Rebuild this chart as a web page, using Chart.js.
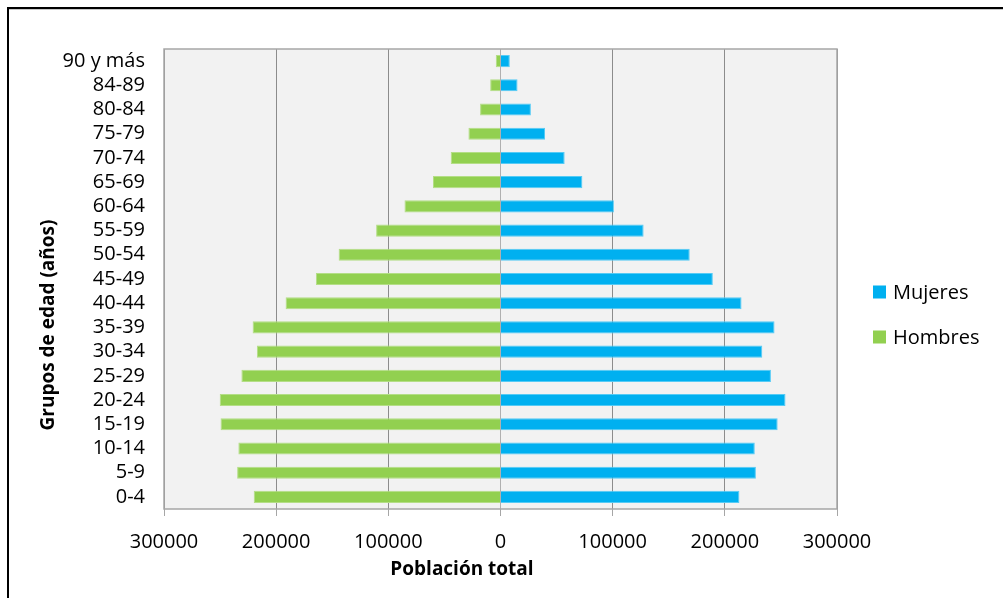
<!DOCTYPE html>
<html lang="es">
<head>
<meta charset="utf-8">
<title>Pirámide de población</title>
<script src="https://cdn.jsdelivr.net/npm/chart.js@4/dist/chart.umd.min.js"></script>
<style>
  html, body { margin: 0; padding: 0; background: #ffffff; }
  canvas { display: block; }
</style>
</head>
<body>
<canvas id="piramide" width="1003" height="598"></canvas>
<script>
// Grupos de edad, de abajo (0-4) hacia arriba (90 y más)
const grupos = ['0-4', '5-9', '10-14', '15-19', '20-24', '25-29', '30-34', '35-39',
  '40-44', '45-49', '50-54', '55-59', '60-64', '65-69', '70-74', '75-79',
  '80-84', '84-89', '90 y más'];

// Población por grupo de edad
const mujeres = [213000, 227700, 226700, 247100, 254100, 241100, 233400, 244300,
  214900, 189300, 168700, 127600, 101100, 73000, 57200, 39700, 27100, 15200, 8300];
const hombres = [220000, 234800, 233700, 249600, 250300, 231000, 217200, 221000,
  191600, 164600, 144300, 110900, 85600, 60200, 44400, 28600, 18200, 9200, 4200];

// Marcas del eje horizontal (valores absolutos a ambos lados del cero)
const marcasX = [-300000, -200000, -100000, 0, 100000, 200000, 300000];

const tituloX = 'Población total';
const tituloY = 'Grupos de edad (años)';

const FUENTE = '"Open Sans", "DejaVu Sans", sans-serif';
const AZUL = '#00B0F0';
const VERDE = '#92D050';

// Fondo y marco del área de trazado, títulos, leyenda y borde exterior
const decoracion = {
  id: 'decoracion',
  beforeDraw(chart) {
    const { ctx, chartArea: a } = chart;
    ctx.save();
    ctx.fillStyle = '#F2F2F2';
    ctx.fillRect(a.left, a.top, a.right - a.left, a.bottom - a.top);
    ctx.restore();
  },
  afterDraw(chart) {
    const { ctx, chartArea: a } = chart;
    ctx.save();
    // marco del área de trazado
    ctx.strokeStyle = '#A6A6A6';
    ctx.lineWidth = 1.5;
    ctx.strokeRect(a.left, a.top, a.right - a.left, a.bottom - a.top);

    // títulos de los ejes
    ctx.fillStyle = '#000000';
    ctx.font = 'bold 19px ' + FUENTE;
    ctx.textAlign = 'center';
    ctx.textBaseline = 'middle';
    ctx.fillText(tituloX, 462, 570);
    ctx.save();
    ctx.translate(49, 325);
    ctx.rotate(-Math.PI / 2);
    ctx.fillText(tituloY, 0, 0);
    ctx.restore();

    // leyenda
    ctx.font = '20px ' + FUENTE;
    ctx.textAlign = 'left';
    const filas = [292, 337];
    chart.data.datasets.forEach((ds, i) => {
      const y = filas[i];
      ctx.fillStyle = ds.backgroundColor;
      ctx.fillRect(873, y - 6.5, 13, 13);
      ctx.fillStyle = '#000000';
      ctx.fillText(ds.label, 893, y + 1);
    });

    // borde exterior (superior e izquierdo)
    ctx.fillStyle = '#000000';
    ctx.fillRect(7, 7, 1003 - 7, 2);
    ctx.fillRect(7, 7, 2, 598 - 7);
    ctx.fillStyle = '#C8C8C8';
    ctx.fillRect(9, 9, 1003 - 9, 1);
    ctx.restore();
  }
};

new Chart(document.getElementById('piramide'), {
  type: 'bar',
  data: {
    labels: grupos,
    datasets: [
      {
        label: 'Mujeres',
        data: mujeres,
        backgroundColor: AZUL,
        borderColor: '#55CBF5',
        borderWidth: 1,
        barPercentage: 0.5,
        categoryPercentage: 1
      },
      {
        label: 'Hombres',
        data: hombres.map(v => -v),
        backgroundColor: VERDE,
        borderColor: '#B4DE86',
        borderWidth: 1,
        barPercentage: 0.5,
        categoryPercentage: 1
      }
    ]
  },
  options: {
    indexAxis: 'y',
    responsive: false,
    animation: false,
    devicePixelRatio: 1,
    layout: { padding: { top: 49, right: 166, bottom: 0, left: 0 } },
    plugins: {
      legend: { display: false },
      tooltip: { enabled: false },
      title: { display: false }
    },
    scales: {
      x: {
        type: 'linear',
        min: -300000,
        max: 300000,
        afterBuildTicks(scale) {
          scale.ticks = marcasX.map(v => ({ value: v }));
        },
        afterFit(scale) { scale.height = 89; },
        border: { display: false },
        grid: {
          color: ctx => (ctx.tick && ctx.tick.value === 0) ? '#B0B0B0' : '#8C8C8C',
          lineWidth: 1,
          drawTicks: true,
          tickLength: 7,
          tickColor: '#A6A6A6'
        },
        ticks: {
          callback: v => String(Math.abs(v)),
          color: '#000000',
          padding: 14,
          maxRotation: 0,
          autoSkip: false,
          font: { family: FUENTE, size: 20 }
        }
      },
      y: {
        stacked: true,
        reverse: true,
        afterFit(scale) { scale.width = 164; },
        border: { display: false },
        grid: { display: false, drawTicks: false },
        ticks: {
          color: '#000000',
          padding: 19,
          autoSkip: false,
          font: { family: FUENTE, size: 20 }
        }
      }
    }
  },
  plugins: [decoracion]
});
</script>
</body>
</html>
